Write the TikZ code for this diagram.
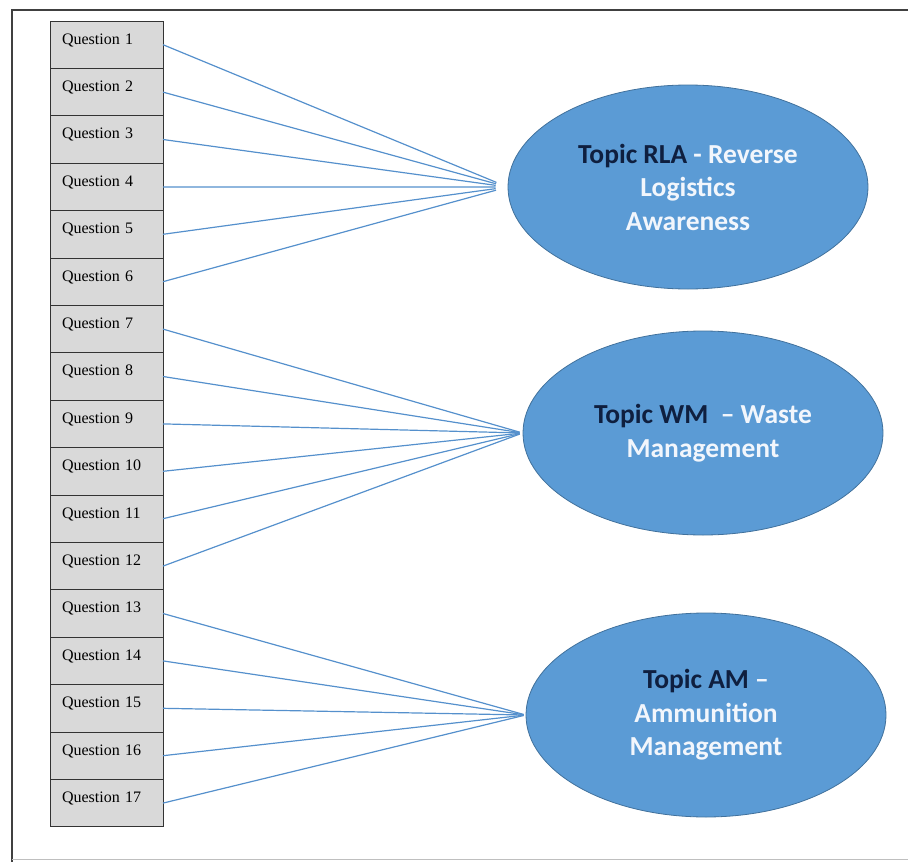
\documentclass[tikz,border=0pt]{standalone}
\usepackage{xcolor}
\usepackage{fontspec}
\setmainfont{Liberation Serif}
\newfontfamily\calibri{Carlito}
\usepackage{tikz}
\usetikzlibrary{positioning,shapes.geometric}

\definecolor{qgray}{HTML}{D9D9D9}
\definecolor{topicblue}{HTML}{5B9BD5}
\definecolor{topicedge}{HTML}{41719C}
\definecolor{topicnavy}{HTML}{0F1F3F}
\definecolor{linkblue}{HTML}{5590CC}
\definecolor{softwhite}{HTML}{F2F6FC}

\tikzset{
  question/.style={rectangle, draw=black!80, fill=qgray, line width=0.9pt,
    minimum width=113pt, text width=89pt, inner xsep=12pt, inner ysep=0pt,
    text height=23pt, text depth=24.4pt, align=left, outer sep=0pt,
    font=\fontsize{16}{16}\selectfont},
  topic/.style={ellipse, draw=topicedge, fill=topicblue, line width=0.8pt,
    minimum width=360pt, minimum height=204pt, inner sep=0pt, align=center,
    text=softwhite, font=\calibri\bfseries\fontsize{27.5}{33.5}\selectfont},
  link/.style={draw=linkblue, line width=1.2pt},
  frame/.style={draw=black!75, line width=1.5pt},
}

\begin{document}
\begin{tikzpicture}[x=1pt, y=-1pt]
            \useasboundingbox (0,0) rectangle (908,862);
            \draw[frame] (12,862) -- (12,10) -- (908,10);
            \draw[black!25, line width=0.8pt] (12,859) -- (908,859);

            % question column
            \node[question, anchor=north west] at (50, 21) (q1) {Question 1};
            \foreach \i [remember=\i as \j (initially 1)] in {2,...,17}
                \node[question, below=0pt of q\j] (q\i) {Question \i};

            % topics
            \node[topic] at (688, 187) (rla) {\textcolor{topicnavy}{Topic RLA} - Reverse\\Logistics\\Awareness};
            \node[topic] at (703, 433) (wm) {\textcolor{topicnavy}{Topic WM}\ \ – Waste\\Management};
            \node[topic] at (706, 715) (am) {\textcolor{topicnavy}{Topic AM} –\\Ammunition\\Management};

            \foreach \i in {1,...,6}
                \draw[link, shorten >=12pt] (q\i.east) -- (rla.west);
            \foreach \i in {7,...,12}
                \draw[link, shorten >=3pt] (q\i.east) -- (wm.west);
            \foreach \i in {13,...,17}
                \draw[link, shorten >=2pt] (q\i.east) -- (am.west);
        \end{tikzpicture}
\end{document}
